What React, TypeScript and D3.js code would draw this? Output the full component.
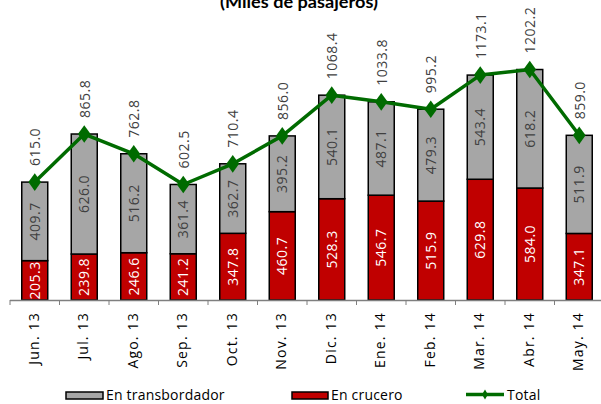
import React, { useEffect, useRef } from 'react';
import * as d3 from 'd3';

const months = ['Jun. 13', 'Jul. 13', 'Ago. 13', 'Sep. 13', 'Oct. 13', 'Nov. 13', 'Dic. 13', 'Ene. 14', 'Feb. 14', 'Mar. 14', 'Abr. 14', 'May. 14'];
const transbordador = [409.7, 626.0, 516.2, 361.4, 362.7, 395.2, 540.1, 487.1, 479.3, 543.4, 618.2, 511.9];
const crucero = [205.3, 239.8, 246.6, 241.2, 347.8, 460.7, 528.3, 546.7, 515.9, 629.8, 584.0, 347.1];
const total = [615.0, 865.8, 762.8, 602.5, 710.4, 856.0, 1068.4, 1033.8, 995.2, 1173.1, 1202.2, 859.0];

const W = 601;
const H = 404;
const FONT = '"Open Sans", sans-serif';
const GRAY = '#a6a6a6';
const RED = '#c00000';
const GREEN = '#006b00';

const App = () => {
  const ref = useRef<SVGSVGElement | null>(null);

  useEffect(() => {
    document.body.style.margin = '0';
    const svg = d3.select(ref.current);
    svg.selectAll('*').remove();

    const x = d3.scaleBand<string>()
      .domain(months)
      .range([10, 604])
      .paddingInner(0.475)
      .paddingOuter(0.2375);
    const step = x.step();
    const y = d3.scaleLinear().domain([0, 1400]).range([300, 31.6]);
    const cx = (m: string) => (x(m) as number) + x.bandwidth() / 2;

    // title (cut off at top like the original)
    svg.append('text')
      .attr('x', 299)
      .attr('y', 8)
      .attr('text-anchor', 'middle')
      .attr('font-family', 'Lato, sans-serif')
      .attr('font-weight', 'bold')
      .attr('font-size', 17)
      .attr('textLength', 158)
      .attr('lengthAdjust', 'spacingAndGlyphs')
      .attr('fill', '#000')
      .text('(Miles de pasajeros)');

    // stacked bars
    const g = svg.append('g');
    months.forEach((m, i) => {
      const x0 = x(m) as number;
      g.append('rect')
        .attr('x', x0)
        .attr('y', y(crucero[i]))
        .attr('width', x.bandwidth())
        .attr('height', y(0) - y(crucero[i]))
        .attr('fill', RED)
        .attr('stroke', '#000')
        .attr('stroke-width', 1.5);
      g.append('rect')
        .attr('x', x0)
        .attr('y', y(crucero[i] + transbordador[i]))
        .attr('width', x.bandwidth())
        .attr('height', y(crucero[i]) - y(crucero[i] + transbordador[i]))
        .attr('fill', GRAY)
        .attr('stroke', '#000')
        .attr('stroke-width', 1.5);
    });

    // axis
    svg.append('line')
      .attr('x1', 10).attr('x2', W)
      .attr('y1', 300.5).attr('y2', 300.5)
      .attr('stroke', '#7f7f7f').attr('stroke-width', 1.5);
    d3.range(months.length + 1).forEach((i) => {
      svg.append('line')
        .attr('x1', 10 + i * step).attr('x2', 10 + i * step)
        .attr('y1', 300).attr('y2', 305)
        .attr('stroke', '#7f7f7f').attr('stroke-width', 1);
    });

    // segment labels
    months.forEach((m, i) => {
      const c = cx(m);
      const redMid = (y(0) + y(crucero[i])) / 2;
      const grayMid = (y(crucero[i]) + y(crucero[i] + transbordador[i])) / 2;
      svg.append('text')
        .attr('transform', `translate(${c + 5},${redMid}) rotate(-90)`)
        .attr('text-anchor', 'middle')
        .attr('font-family', FONT)
        .attr('font-size', 14)
        .attr('letter-spacing', 0.5)
        .attr('fill', '#fff')
        .text(crucero[i].toFixed(1));
      svg.append('text')
        .attr('transform', `translate(${c + 5},${grayMid}) rotate(-90)`)
        .attr('text-anchor', 'middle')
        .attr('font-family', FONT)
        .attr('font-size', 14)
        .attr('letter-spacing', 0.5)
        .attr('fill', '#404040')
        .text(transbordador[i].toFixed(1));
    });

    // total line
    const line = d3.line<number>()
      .x((d, i) => cx(months[i]))
      .y((d) => y(d));
    svg.append('path')
      .datum(total)
      .attr('d', line)
      .attr('fill', 'none')
      .attr('stroke', GREEN)
      .attr('stroke-width', 3.5)
      .attr('stroke-linejoin', 'round');

    const diamond = d3.symbol().type(d3.symbolDiamond).size(90);
    svg.selectAll('.pt')
      .data(total)
      .enter()
      .append('path')
      .attr('class', 'pt')
      .attr('d', diamond)
      .attr('transform', (d, i) => `translate(${cx(months[i])},${y(d)}) scale(1.25,1)`)
      .attr('fill', GREEN);

    // total labels
    months.forEach((m, i) => {
      svg.append('text')
        .attr('transform', `translate(${cx(m) + 5.5},${y(total[i]) - 16}) rotate(-90)`)
        .attr('text-anchor', 'start')
        .attr('font-family', FONT)
        .attr('font-size', 14)
        .attr('letter-spacing', 0.5)
        .attr('fill', '#404040')
        .text(total[i].toFixed(1));
    });

    // month labels
    months.forEach((m) => {
      svg.append('text')
        .attr('transform', `translate(${cx(m) + 4},312) rotate(-90)`)
        .attr('text-anchor', 'end')
        .attr('font-family', FONT)
        .attr('font-size', 14)
        .attr('letter-spacing', 1.2)
        .attr('fill', '#000')
        .text(m);
    });

    // legend
    const lg = svg.append('g').attr('font-family', FONT).attr('font-size', 14).attr('fill', '#000');
    lg.append('rect').attr('x', 66).attr('y', 392).attr('width', 37).attr('height', 7)
      .attr('fill', GRAY).attr('stroke', '#000').attr('stroke-width', 1.5);
    lg.append('text').attr('x', 106).attr('y', 400).attr('letter-spacing', 0.2).text('En transbordador');
    lg.append('rect').attr('x', 292).attr('y', 392).attr('width', 36).attr('height', 7)
      .attr('fill', RED).attr('stroke', '#000').attr('stroke-width', 1.5);
    lg.append('text').attr('x', 331).attr('y', 400).attr('letter-spacing', 0.2).text('En crucero');
    lg.append('line').attr('x1', 466).attr('x2', 504).attr('y1', 394.5).attr('y2', 394.5)
      .attr('stroke', GREEN).attr('stroke-width', 3.5);
    lg.append('path').attr('d', d3.symbol().type(d3.symbolDiamond).size(30))
      .attr('transform', 'translate(485,394.5)').attr('fill', GREEN);
    lg.append('text').attr('x', 507).attr('y', 400).attr('letter-spacing', 0.2).text('Total');
  }, []);

  return <svg ref={ref} width={W} height={H} style={{ display: 'block', background: '#fff' }} />;
};

export default App;
